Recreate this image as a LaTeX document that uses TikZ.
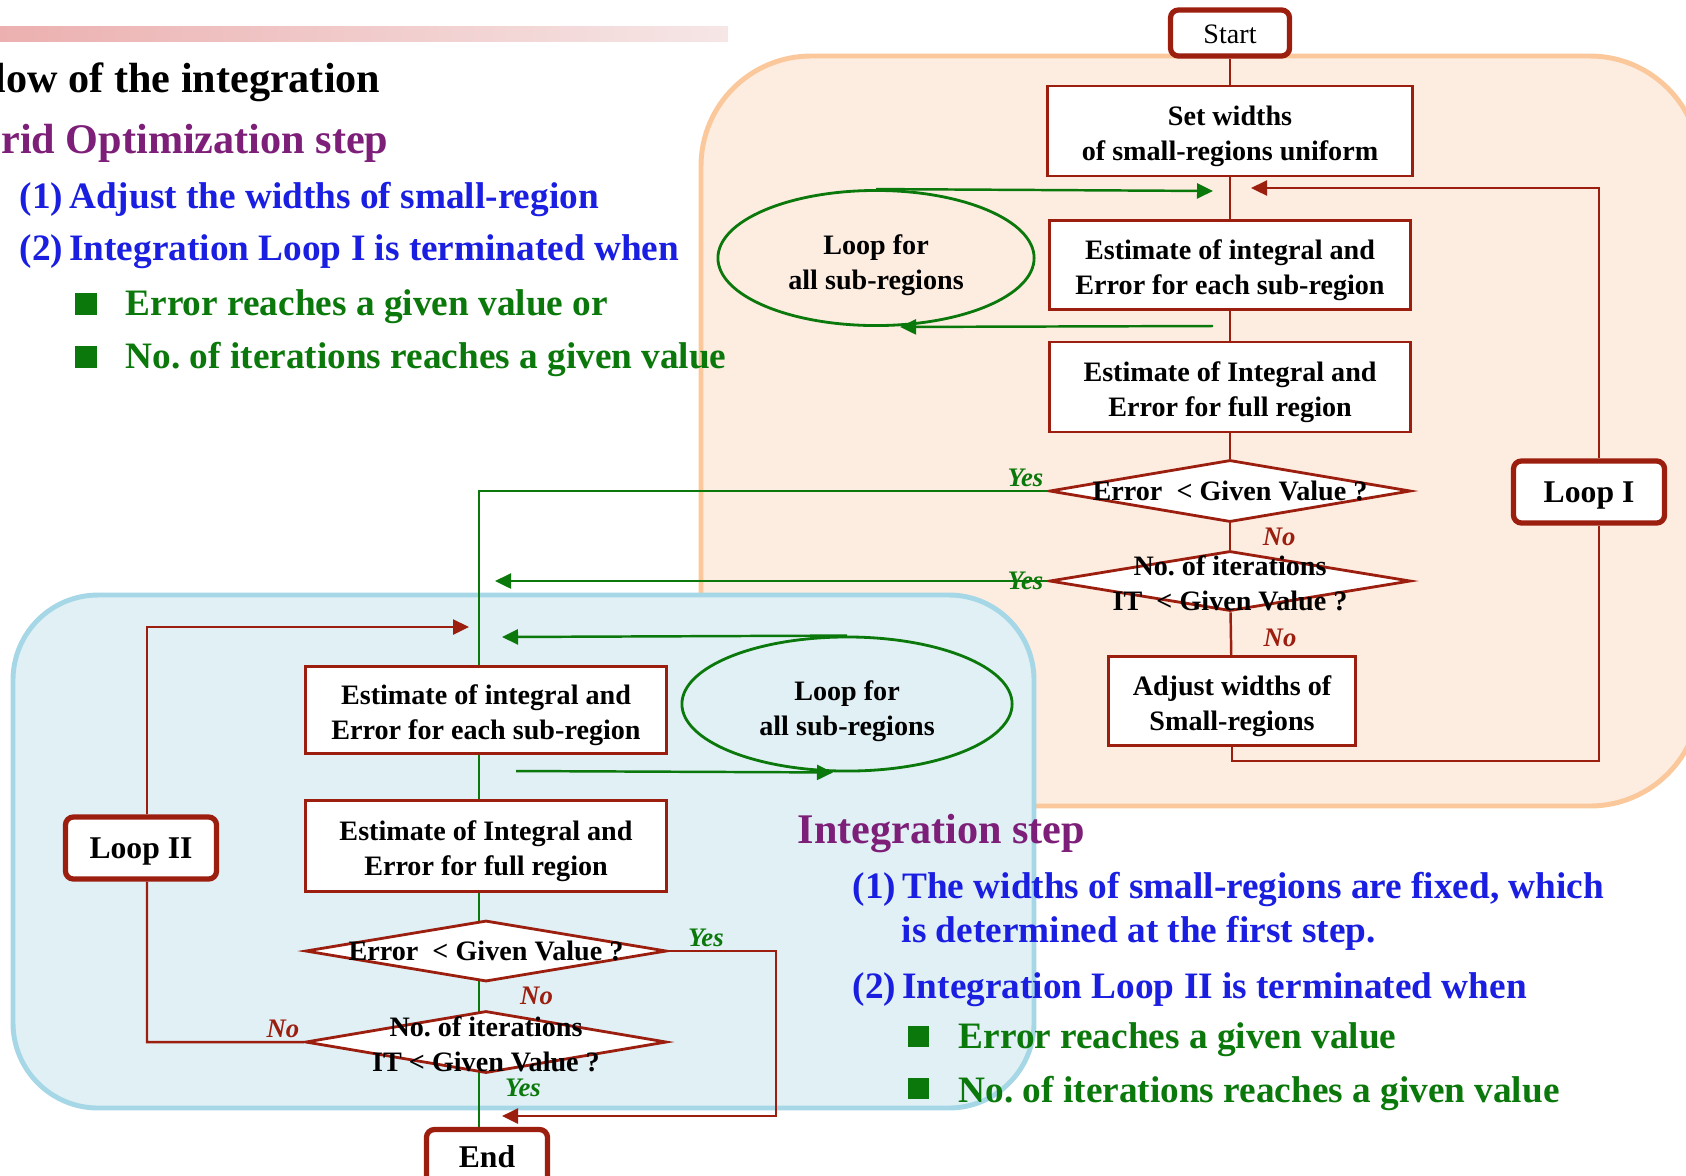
\documentclass[tikz,border=0pt]{standalone}
\usepackage{fontspec}
\setmainfont{Liberation Serif}
\usepackage{tikz}
\usetikzlibrary{shapes.geometric, arrows.meta}
\definecolor{loopred}{RGB}{155,30,15}
\definecolor{loopgreen}{RGB}{10,120,10}
\definecolor{itemblue}{RGB}{25,30,225}
\definecolor{headpurple}{RGB}{125,30,120}
\definecolor{gridfill}{RGB}{253,236,224}
\definecolor{gridline}{RGB}{250,200,155}
\definecolor{intfill}{RGB}{224,240,245}
\definecolor{intline}{RGB}{165,215,230}
\definecolor{barleft}{RGB}{236,176,176}
\definecolor{barright}{RGB}{246,230,230}
\newcommand{\boxfont}{\fontsize{8}{9.9}\selectfont\bfseries}
\newcommand{\loopfont}{\fontsize{9}{10}\selectfont\bfseries}
\newcommand{\itemfont}{\fontsize{10.6}{12}\selectfont\bfseries}
\newcommand{\headfont}{\fontsize{12}{14}\selectfont\bfseries}
\frenchspacing

\begin{document}
\begin{tikzpicture}[x=0.01cm, y=-0.01cm,
    procbox/.style={draw=loopred, line width=0.8pt, fill=white, minimum width=3.61cm, minimum height=0.88cm, inner sep=1pt, align=center, font=\boxfont, text height=18.6pt},
    decide/.style={diamond, draw=loopred, line width=0.8pt, fill=white, minimum width=3.61cm, minimum height=0.62cm, inner sep=0pt},
    dtext/.style={align=center, inner sep=0pt, font=\boxfont},
    termbox/.style={draw=loopred, line width=1.5pt, rounded corners=0.08cm, fill=white, align=center},
    subloop/.style={ellipse, draw=loopgreen, line width=0.8pt, minimum width=3.16cm, minimum height=1.35cm, inner sep=0pt, align=center, font=\boxfont, text height=19.4pt},
    ans/.style={font=\fontsize{7.6}{8}\selectfont\bfseries\itshape, inner sep=1pt},
    redline/.style={draw=loopred, line width=0.7pt},
    redarrow/.style={draw=loopred, line width=0.7pt, -{Triangle[length=0.16cm, width=0.15cm]}},
    greenline/.style={draw=loopgreen, line width=0.7pt},
    greenarrow/.style={draw=loopgreen, line width=0.7pt, -{Triangle[length=0.16cm, width=0.15cm]}},
    itemtxt/.style={anchor=base west, inner sep=0pt, text=itemblue, font=\itemfont},
    bullettxt/.style={anchor=base west, inner sep=0pt, text=loopgreen, font=\itemfont},
    headtxt/.style={inner sep=0pt, font=\headfont}]
  \useasboundingbox (0,0) rectangle (1686,1175);
  \clip (0,0) rectangle (1686,1175);
  \fill [left color=barleft, right color=barright] (0,26) rectangle (728,41);
  \draw [gridline, fill=gridfill, line width=1.4pt, rounded corners=1.1cm] (701,56) rectangle (1700,806);
  \draw [intline, fill=intfill, line width=1.4pt, rounded corners=0.85cm] (13,595) rectangle (1034,1108);

  \node [termbox, font=\fontsize{8}{9.7}\selectfont, text height=6.2pt, minimum width=1.19cm, minimum height=0.46cm] (start) at (1230,33) {Start};
  \node [procbox, minimum width=3.65cm, minimum height=0.9cm] (setw) at (1230,131) {Set widths\\of small-regions uniform};
  \node [procbox, minimum height=0.89cm] (eachI) at (1230,265) {Estimate of integral and\\Error for each sub-region};
  \node [procbox, minimum height=0.9cm] (fullI) at (1230,387) {Estimate of Integral and\\Error for full region};
  \node [decide] (errI) at (1230,491) {};
  \node [dtext] (errIt) at (errI) {Error~~< Given Value ?};
  \node [decide, minimum height=0.6cm] (itI) at (1230,581) {};
  \node [dtext] (itIt) at (1230,583) {No. of iterations\\IT~~< Given Value ?};
  \node [procbox, minimum width=2.47cm, minimum height=0.89cm] (adjI) at (1232,701) {Adjust widths of\\Small-regions};
  \node [termbox, font=\loopfont, text height=8pt, minimum width=1.51cm, minimum height=0.62cm] (loopI) at (1589,492) {Loop I};
  \node [subloop] (ellI) at (876,258) {Loop for\\all sub-regions};

  \draw [redline] (start) -- (setw);
  \draw [redline] (setw) -- (eachI);
  \draw [redline] (eachI) -- (fullI);
  \draw [redline] (fullI) -- (errI);
  \draw [redline] (errI) -- node [ans, text=loopred, right=0.28cm] (noI1) {No} (itI);
  \draw [redline] (itI) -- node [ans, text=loopred, right=0.28cm, pos=0.6] (noI2) {No} (adjI);
  \coordinate (loopItip) at (1251,188);
  \draw [redline] (adjI.south) -- ++(0,14) -| ([xshift=0.1cm]loopI.south);
  \draw [redarrow] ([xshift=0.1cm]loopI.north) |- (loopItip);
  \coordinate (subItip) at (1213,191);
  \coordinate (subIstart) at (1213,326);
  \draw [greenarrow] (ellI.north) -- (subItip);
  \draw [greenarrow] (subIstart) -- ([xshift=0.24cm]ellI.south);
  \coordinate (itItip) at (495,581);
  \draw [greenarrow] (itI.west) -- node [ans, text=loopgreen, pos=0, left] (yesI2) {Yes} (itItip);
  \coordinate (spineBot) at (479,1130);
  \draw [greenline] (errI.west) -- node [ans, text=loopgreen, pos=0, above left] (yesI1) {Yes} (479,491) -- (spineBot);

  \node [termbox, font=\loopfont, text height=8pt, minimum width=1.51cm, minimum height=0.62cm] (loopII) at (141,848) {Loop II};
  \node [procbox, minimum height=0.87cm] (eachII) at (486,710) {Estimate of integral and\\Error for each sub-region};
  \node [subloop, minimum width=3.3cm, minimum height=1.34cm] (ellII) at (847,704) {Loop for\\all sub-regions};
  \node [procbox, minimum height=0.91cm] (fullII) at (486,846) {Estimate of Integral and\\Error for full region};
  \node [decide, minimum height=0.61cm] (errII) at (486,951) {};
  \node [dtext] (errIIt) at (errII) {Error~~< Given Value ?};
  \node [decide] (itII) at (486,1042) {};
  \node [dtext] (itIIt) at (486,1044) {No. of iterations\\IT~< Given Value ?};
  \node [termbox, font=\loopfont, minimum width=1.21cm, minimum height=0.55cm] (endII) at (487,1157) {End};

  \path (errII) -- node [ans, text=loopred, right=0.3cm] (noII1) {No} (itII);
  \node [ans, text=loopgreen, below right, xshift=0.15cm] (yesII2) at (itII.south) {Yes};
  \draw [redline] (itII.west) -- node [ans, text=loopred, pos=0, above left] (noII2) {No} (147,1042) -- ([xshift=0.06cm]loopII.south);
  \coordinate (loopIItip) at (469,627);
  \draw [redarrow] ([xshift=0.06cm]loopII.north) |- (loopIItip);
  \coordinate (subIItip) at (502,637);
  \coordinate (subIIstart) at (516,771);
  \draw [greenarrow] (ellII.north) -- (subIItip);
  \draw [greenarrow] (subIIstart) -- ([xshift=-0.14cm]ellII.south);
  \coordinate (endIItip) at (502,1116);
  \draw [redarrow] (errII.east) -- node [ans, text=loopgreen, pos=0.35, above] (yesII1) {Yes} ++(108,0) |- (endIItip);

  \node [headtxt, anchor=base east] (flowhead) at (381,92) {low of the integration};
  \node [headtxt, anchor=base east, text=headpurple] (gridhead) at (389,153) {rid Optimization step};
  \node [itemtxt] (gridone) at (19,208) {(1)\,Adjust the widths of small-region};
  \node [itemtxt] (gridtwo) at (19,260) {(2)\,Integration Loop I is terminated when};
  \fill [loopgreen] (75,293) rectangle (97,315);
  \node [bullettxt] (gridthree) at (125,315) {Error reaches a given value or};
  \fill [loopgreen] (75,346) rectangle (97,368);
  \node [bullettxt] (gridfour) at (125,368) {No. of iterations reaches a given value};

  \node [headtxt, anchor=base west, text=headpurple] (inthead) at (797,843) {Integration step};
  \node [itemtxt] (intone) at (852,898) {(1)\,The widths of small-regions are fixed, which};
  \node [itemtxt] (intonemore) at (901,942) {is determined at the first step.};
  \node [itemtxt] (inttwo) at (852,998) {(2)\,Integration Loop II is terminated when};
  \fill [loopgreen] (908,1026) rectangle (929,1047);
  \node [bullettxt] (intthree) at (958,1048) {Error reaches a given value};
  \fill [loopgreen] (908,1078) rectangle (929,1099);
  \node [bullettxt] (intfour) at (958,1102) {No. of iterations reaches a given value};
\end{tikzpicture}
\end{document}
